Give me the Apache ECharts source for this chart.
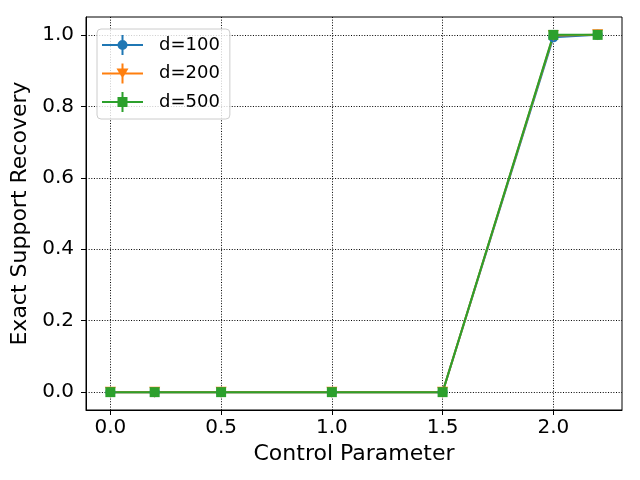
<!DOCTYPE html>
<html>
<head>
<meta charset="utf-8">
<script src="https://cdn.jsdelivr.net/npm/echarts@6/dist/echarts.min.js"></script>
<style>
  html, body { margin: 0; padding: 0; background: #fff; }
  #chart { width: 640px; height: 480px; }
</style>
</head>
<body>
<div id="chart"></div>
<script>
// --- data ---
const xValues = [0.0, 0.2, 0.5, 1.0, 1.5, 2.0, 2.2];
const d100 = [0, 0, 0, 0, 0, 0.993, 1.0];
const d200 = [0, 0, 0, 0, 0, 0.998, 1.0];
const d500 = [0, 0, 0, 0, 0, 1.0, 1.0];
const seriesNames = ['d=100', 'd=200', 'd=500'];
const xTicks = [0.0, 0.5, 1.0, 1.5, 2.0];
const yTicks = [0.0, 0.2, 0.4, 0.6, 0.8, 1.0];

const colors = ['#1f77b4', '#ff7f0e', '#2ca02c'];
const font = 'DejaVu Sans';

// legend icons: line + error bar + marker (all drawn clockwise so nothing cancels)
const base = 'M0,9 L41,9 L41,11 L0,11 Z M19.5,0 L21.5,0 L21.5,20 L19.5,20 Z ';
const icons = [
  'path://' + base + 'M15.5,10 A5,5 0 1,1 25.5,10 A5,5 0 1,1 15.5,10 Z',
  'path://' + base + 'M14.5,5 L26.5,5 L20.5,15 Z',
  'path://' + base + 'M15.5,5 L25.5,5 L25.5,15 L15.5,15 Z'
];

const pairs = ys => xValues.map((x, i) => [x, ys[i]]);

const chart = echarts.init(document.getElementById('chart'));

const makeSeries = (name, ys, color, symbol, size, rotate) => ({
  name: name,
  type: 'line',
  data: pairs(ys),
  symbol: symbol,
  symbolSize: size,
  symbolRotate: rotate,
  showAllSymbol: true,
  lineStyle: { color: color, width: 2 },
  itemStyle: { color: color },
  emphasis: { disabled: true }
});

chart.setOption({
  animation: false,
  textStyle: { fontFamily: font, color: '#000' },
  grid: {
    left: 86, right: 18, top: 17, bottom: 70,
    show: true, borderColor: '#000', borderWidth: 1,
    containLabel: false, outerBoundsMode: 'none'
  },
  legend: {
    orient: 'vertical',
    left: 97, top: 29,
    padding: [6, 10, 7, 5],
    itemWidth: 41, itemHeight: 20, itemGap: 8.5,
    backgroundColor: 'rgba(255,255,255,0.8)',
    borderColor: '#cccccc', borderWidth: 1, borderRadius: 4,
    textStyle: { fontFamily: font, fontSize: 18, color: '#000', padding: [0, 0, 0, 11] },
    itemStyle: { borderWidth: 0 },
    data: seriesNames.map((n, i) => ({ name: n, icon: icons[i] }))
  },
  xAxis: {
    type: 'value',
    min: -0.11, max: 2.31,
    name: 'Control Parameter',
    nameLocation: 'middle', nameGap: 31,
    nameTextStyle: { fontFamily: font, fontSize: 22, color: '#000' },
    axisLine: { show: true, onZero: false, lineStyle: { color: '#000', width: 1 } },
    axisTick: { show: true, inside: false, length: 5, customValues: xTicks, lineStyle: { color: '#000' } },
    axisLabel: { customValues: xTicks, fontSize: 20, margin: 8, color: '#000', fontFamily: font,
      formatter: v => v.toFixed(1) },
    splitLine: { show: true, lineStyle: { color: '#000', type: [1, 1.65], width: 1 } }
  },
  yAxis: {
    type: 'value',
    min: -0.05, max: 1.05,
    name: 'Exact Support Recovery',
    nameLocation: 'middle', nameGap: 53,
    nameTextStyle: { fontFamily: font, fontSize: 22, color: '#000' },
    axisLine: { show: true, onZero: false, lineStyle: { color: '#000', width: 1 } },
    axisTick: { show: true, inside: false, length: 5, customValues: yTicks, lineStyle: { color: '#000' } },
    axisLabel: { customValues: yTicks, fontSize: 20, margin: 12, color: '#000', fontFamily: font,
      formatter: v => v.toFixed(1) },
    splitLine: { show: true, lineStyle: { color: '#000', type: [1, 1.65], width: 1 } }
  },
  series: [
    makeSeries(seriesNames[0], d100, colors[0], 'circle', 10, 0),
    makeSeries(seriesNames[1], d200, colors[1], 'triangle', 11, 180),
    makeSeries(seriesNames[2], d500, colors[2], 'rect', 10, 0)
  ]
});
</script>
</body>
</html>
